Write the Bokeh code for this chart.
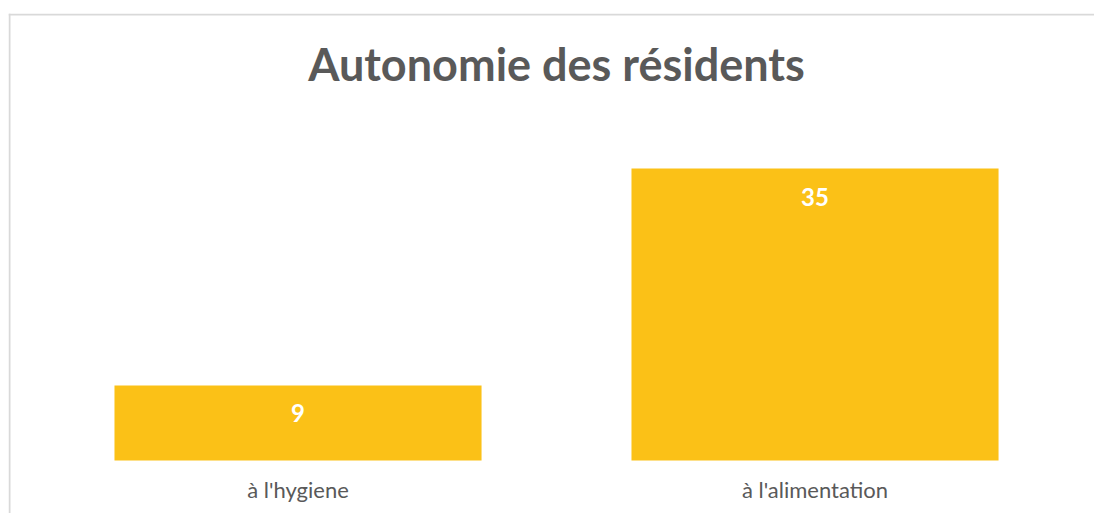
from bokeh.plotting import figure
from bokeh.models import Range1d, FixedTicker, LabelSet, Label, Span, ColumnDataSource
from bokeh.core.properties import value
from bokeh.embed import file_html
from bokeh.resources import INLINE

categories = ["à l'hygiene", "à l'alimentation"]
values = [9, 35]
title_text = "Autonomie des résidents"

BAR_COLOR = "#FBC117"
TEXT_COLOR = "#595959"
BORDER_COLOR = "#D9D9D9"
FONT = "Lato"

xs = list(range(len(categories)))
src = ColumnDataSource(dict(x=xs, top=values, label=[str(v) for v in values]))

p = figure(width=1094, height=513, output_backend="svg", toolbar_location=None,
           x_range=Range1d(-0.56, 1.5406), y_range=Range1d(-6.355, 53.6),
           y_axis_location=None,
           min_border_left=8, min_border_right=0, min_border_top=13, min_border_bottom=0)
p.outline_line_color = None
p.xgrid.visible = False
p.ygrid.visible = False
p.background_fill_color = "white"
p.border_fill_color = "white"

p.vbar(x="x", top="top", bottom=0, width=0.71, source=src,
       fill_color=BAR_COLOR, line_color=None)

labels = LabelSet(x="x", y="top", text="label", source=src, y_offset=-37,
                  text_align="center", text_baseline="alphabetic",
                  text_color="white", text_font=value(FONT), text_font_style="bold",
                  text_font_size="24px")
p.add_layout(labels)

ax = p.xaxis[0]
ax.fixed_location = 0
ax.ticker = FixedTicker(ticks=xs)
ax.major_label_overrides = {i: c for i, c in zip(xs, categories)}
ax.axis_line_color = None
ax.major_tick_line_color = None
ax.minor_tick_line_color = None
ax.major_label_text_font = FONT
ax.major_label_text_font_size = "22px"
ax.major_label_text_color = TEXT_COLOR
ax.major_label_standoff = 9

title = Label(x=0.5, y=45.77, y_offset=15, text=title_text, text_align="center",
              text_baseline="alphabetic", text_font=FONT, text_font_style="bold",
              text_font_size="45px", text_color=TEXT_COLOR)
p.add_layout(title)

p.add_layout(Span(location=14, location_units="canvas", dimension="width",
                  line_color=BORDER_COLOR, line_width=2))
p.add_layout(Span(location=9, location_units="canvas", dimension="height",
                  line_color=BORDER_COLOR, line_width=2))

open("out.html", "w").write(file_html(p, INLINE))
